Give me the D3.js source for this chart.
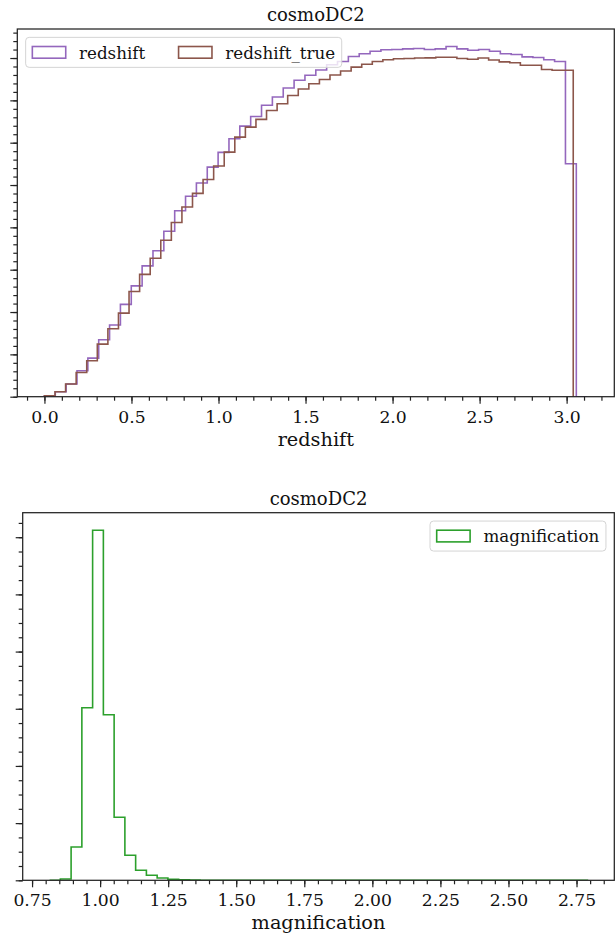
<!DOCTYPE html>
<html>
<head>
<meta charset="utf-8">
<script src="https://cdn.jsdelivr.net/npm/d3@7"></script>
<style>
  body { margin: 0; background: #fff; }
  svg { display: block; }
  text { font-family: "DejaVu Serif", serif; fill: #111; }
</style>
</head>
<body>
<svg id="fig" width="615" height="935"></svg>
<script>
// ---- histogram data (density per bin, 50 equal-width bins over each range) ----
const nBins = 50;
const redshiftRange = [0.0, 3.118];
const redshiftTrueRange = [0.0, 3.038];
const magnificationRange = [0.8144, 2.790];

const redshiftDensity = [
  0.0012, 0.0059, 0.0150, 0.0307, 0.0456, 0.0672, 0.0846, 0.1090, 0.1309, 0.1545,
  0.1724, 0.1954, 0.2196, 0.2367, 0.2524, 0.2712, 0.2886, 0.3047, 0.3196, 0.3310,
  0.3443, 0.3540, 0.3646, 0.3738, 0.3796, 0.3858, 0.3920, 0.3959, 0.4018, 0.4050,
  0.4080, 0.4097, 0.4100, 0.4108, 0.4112, 0.4100, 0.4108, 0.4136, 0.4108, 0.4092,
  0.4100, 0.4080, 0.4050, 0.4041, 0.4014, 0.4006, 0.3979, 0.3959, 0.2752, 0.0000
];
const redshiftTrueDensity = [
  0.0012, 0.0059, 0.0150, 0.0285, 0.0425, 0.0621, 0.0802, 0.0987, 0.1243, 0.1445,
  0.1636, 0.1848, 0.2058, 0.2241, 0.2402, 0.2565, 0.2724, 0.2889, 0.3066, 0.3184,
  0.3275, 0.3381, 0.3460, 0.3558, 0.3634, 0.3696, 0.3746, 0.3800, 0.3847, 0.3892,
  0.3927, 0.3959, 0.3979, 0.3991, 0.3994, 0.4000, 0.4002, 0.4009, 0.4009, 0.3994,
  0.3986, 0.4000, 0.3976, 0.3955, 0.3945, 0.3915, 0.3915, 0.3864, 0.3856, 0.3856
];
const magnificationDensity = [
  0.000, 0.046, 1.166, 6.035, 12.245, 5.790, 2.207, 0.876, 0.350, 0.175,
  0.081, 0.035, 0.018, 0.010, 0.000, 0.000, 0.000, 0.000, 0.000, 0.000,
  0.000, 0.000, 0.000, 0.000, 0.000, 0.000, 0.000, 0.000, 0.000, 0.000,
  0.000, 0.000, 0.000, 0.000, 0.000, 0.000, 0.000, 0.000, 0.000, 0.000,
  0.000, 0.000, 0.000, 0.000, 0.000, 0.000, 0.000, 0.000, 0.000, 0.001
];

const redshiftTicks = [0.0, 0.5, 1.0, 1.5, 2.0, 2.5, 3.0];
const magnificationTicks = [0.75, 1.00, 1.25, 1.50, 1.75, 2.00, 2.25, 2.50, 2.75];

const colors = { purple: "#9467bd", brown: "#8c564b", green: "#2ca02c" };

// ---- helpers ----
function binEdges(range, n) {
  return d3.range(n + 1).map(i => range[0] + (range[1] - range[0]) * i / n);
}
function stepPoints(range, values) {
  const e = binEdges(range, values.length);
  const pts = [[e[0], 0]];
  values.forEach((v, i) => { pts.push([e[i], v]); pts.push([e[i + 1], v]); });
  pts.push([e[e.length - 1], 0]);
  return pts;
}
function ticksBetween(lo, hi, step) {
  const out = [];
  for (let k = Math.ceil(lo / step - 1e-9); k * step <= hi + 1e-9; k++) out.push(+(k * step).toFixed(6));
  return out;
}

const svg = d3.select("#fig");
let clipId = 0;

function drawPanel(cfg) {
  const { box, series, xTicks, xMinorStep, yMajorStep, yMinorDiv, xFormat, xLabel, title, legendSide } = cfg;
  const g = svg.append("g");

  // x domain: data range of all bin edges, with 5% margins
  const lo = d3.min(series, s => s.range[0]);
  const hi = d3.max(series, s => s.range[1]);
  const pad = (hi - lo) * 0.05;
  const x = d3.scaleLinear().domain([lo - pad, hi + pad]).range([box.left, box.right]);
  const ymax = d3.max(series, s => d3.max(s.values)) * 1.05;
  const y = d3.scaleLinear().domain([0, ymax]).range([box.bottom, box.top]);

  const id = "clip" + (clipId++);
  g.append("clipPath").attr("id", id).append("rect")
    .attr("x", box.left).attr("y", box.top)
    .attr("width", box.right - box.left).attr("height", box.bottom - box.top);

  // step histograms
  const line = d3.line().x(d => x(d[0])).y(d => y(d[1]));
  series.forEach(s => {
    g.append("path")
      .attr("clip-path", `url(#${id})`)
      .attr("d", line(stepPoints(s.range, s.values)))
      .attr("fill", "none").attr("stroke", s.color)
      .attr("stroke-width", 1.6).attr("stroke-linejoin", "miter");
  });

  // axes: labelled major x ticks, unlabelled minor x ticks, unlabelled y ticks
  const xAxis = d3.axisBottom(x).tickValues(xTicks).tickFormat(xFormat).tickSize(7);
  const xMinor = d3.axisBottom(x).tickValues(ticksBetween(x.domain()[0], x.domain()[1], xMinorStep)).tickFormat("").tickSize(4);
  const yMajor = d3.axisLeft(y).tickValues(ticksBetween(0, ymax, yMajorStep)).tickFormat("").tickSize(7);
  const yMinor = d3.axisLeft(y).tickValues(ticksBetween(0, ymax, yMajorStep / yMinorDiv)).tickFormat("").tickSize(4);

  const ax = [
    g.append("g").attr("transform", `translate(0,${box.bottom})`).call(xMinor),
    g.append("g").attr("transform", `translate(0,${box.bottom})`).call(xAxis),
    g.append("g").attr("transform", `translate(${box.left},0)`).call(yMinor),
    g.append("g").attr("transform", `translate(${box.left},0)`).call(yMajor)
  ];
  ax.forEach(a => {
    a.select(".domain").remove();
    a.selectAll(".tick line").attr("stroke", "#222").attr("stroke-width", 1.2);
  });
  ax[1].selectAll(".tick text")
    .attr("font-size", 17.2).attr("fill", "#111")
    .attr("dy", null).attr("y", 26.2);

  // frame
  g.append("rect")
    .attr("x", box.left).attr("y", box.top)
    .attr("width", box.right - box.left).attr("height", box.bottom - box.top)
    .attr("fill", "none").attr("stroke", "#222").attr("stroke-width", 1.25);

  // title and x label
  const cx = (box.left + box.right) / 2;
  g.append("text").attr("x", cx).attr("y", box.top - 8)
    .attr("text-anchor", "middle").attr("font-size", 18).text(title);
  g.append("text").attr("x", cx).attr("y", box.bottom + 49)
    .attr("text-anchor", "middle").attr("font-size", 19.3).text(xLabel);

  // legend
  const fs = 16.7, em = fs;
  const hw = 2 * em, hh = 0.7 * em, border = 0.5 * em, inner = 0.4 * em, gap = 0.8 * em, colGap = 2 * em;
  const rowH = 30;
  const cy = box.top + border + rowH / 2;
  const lg = g.append("g");
  const frame = lg.append("rect").attr("rx", 3.5).attr("ry", 3.5)
    .attr("fill", "#fff").attr("fill-opacity", 0.8)
    .attr("stroke", "#d4d4d4").attr("stroke-width", 1);
  const entries = lg.append("g");
  let cursor = 0;
  series.forEach(s => {
    const it = entries.append("g").attr("transform", `translate(${cursor},0)`);
    it.append("rect").attr("x", 0).attr("y", cy - hh / 2).attr("width", hw).attr("height", hh)
      .attr("fill", "none").attr("stroke", s.color).attr("stroke-width", 1.6);
    const t = it.append("text").attr("x", hw + gap).attr("y", cy + 6.3).attr("font-size", fs).text(s.label);
    cursor += hw + gap + t.node().getComputedTextLength() + colGap;
  });
  const boxW = cursor - colGap + 2 * inner;
  const boxX = legendSide === "left" ? box.left + border : box.right - border - boxW;
  entries.attr("transform", `translate(${boxX + inner},0)`);
  frame.attr("x", boxX).attr("y", box.top + border).attr("width", boxW).attr("height", rowH);
}

drawPanel({
  box: { left: 17.3, right: 614.3, top: 29, bottom: 396.7 },
  series: [
    { values: redshiftDensity, range: redshiftRange, color: colors.purple, label: "redshift" },
    { values: redshiftTrueDensity, range: redshiftTrueRange, color: colors.brown, label: "redshift_true" }
  ],
  xTicks: redshiftTicks, xMinorStep: 0.1, yMajorStep: 0.05, yMinorDiv: 5,
  xFormat: d3.format(".1f"), xLabel: "redshift", title: "cosmoDC2", legendSide: "left"
});

drawPanel({
  box: { left: 22.7, right: 614.3, top: 512.7, bottom: 880.3 },
  series: [
    { values: magnificationDensity, range: magnificationRange, color: colors.green, label: "magnification" }
  ],
  xTicks: magnificationTicks, xMinorStep: 0.05, yMajorStep: 2, yMinorDiv: 4,
  xFormat: d3.format(".2f"), xLabel: "magnification", title: "cosmoDC2", legendSide: "right"
});
</script>
</body>
</html>
